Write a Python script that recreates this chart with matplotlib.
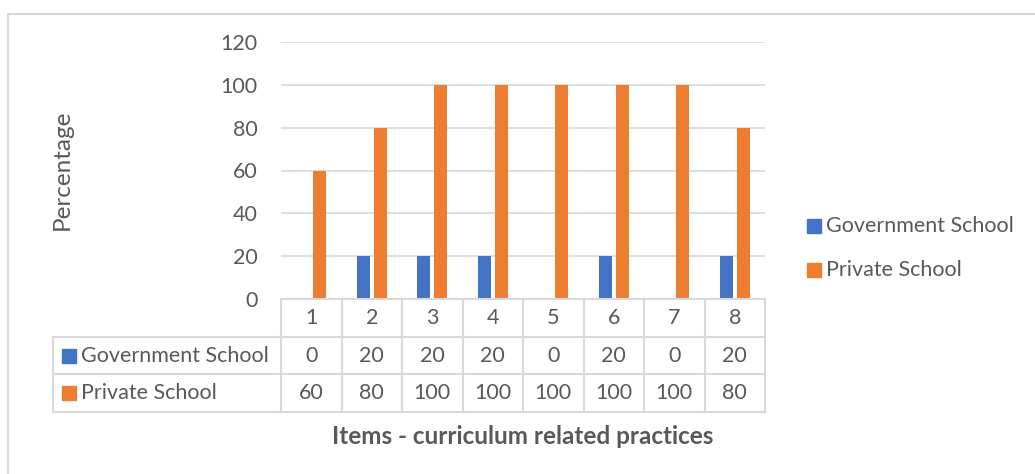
import matplotlib.pyplot as plt
from matplotlib.patches import Rectangle

items = ['1', '2', '3', '4', '5', '6', '7', '8']
government = [0, 20, 20, 20, 0, 20, 0, 20]
private = [60, 80, 100, 100, 100, 100, 100, 80]
series_names = ['Government School', 'Private School']
colors = ['#4472C4', '#ED7D31']
yticks = [0, 20, 40, 60, 80, 100, 120]

text_color = '#595959'
grid_color = '#D9D9D9'
plt.rcParams['font.family'] = ['Lato', 'DejaVu Sans']

W, H = 1035, 474
fig = plt.figure(figsize=(W / 100, H / 100), dpi=100)


def fx(px):
    return px / W


def fy(py):
    return 1 - py / H


# outer chart frame (only top/left visible in the crop)
fig.add_artist(plt.Line2D([fx(8), fx(8)], [fy(14), 0], color=grid_color, lw=1.5))
fig.add_artist(plt.Line2D([fx(8), 1], [fy(14), fy(14)], color=grid_color, lw=1.5))

fs = 15.5

# main plot area
left, right, top, bottom = 281, 765, 42, 299
ax = fig.add_axes([fx(left), fy(bottom), fx(right - left), (bottom - top) / H])
x = list(range(1, len(items) + 1))
bw = 0.22
ax.bar([v - 0.14 for v in x], government, width=bw, color=colors[0], zorder=3)
ax.bar([v + 0.14 for v in x], private, width=bw, color=colors[1], zorder=3)
ax.set_xlim(0.5, len(items) + 0.5)
ax.set_ylim(0, 120)
ax.set_yticks(yticks)
ax.yaxis.grid(True, color=grid_color, lw=1.2)
ax.set_axisbelow(True)
for s in ax.spines.values():
    s.set_visible(False)
ax.set_xticks([])
ax.tick_params(axis='y', length=0, pad=17, labelsize=fs, labelcolor=text_color)
fig.text(fx(62), fy(170), 'Percentage', rotation=90, ha='center', va='center',
         fontsize=17.5, color=text_color)

# data table below the plot
tleft, tbottom = 53, 412
col_w = (right - left) / len(items)
x0 = 0.5 - (left - tleft) / col_w
tax = fig.add_axes([fx(tleft), fy(tbottom), fx(right - tleft), (tbottom - bottom) / H])
tax.set_xlim(x0, len(items) + 0.5)
tax.set_ylim(0, 3)
tax.axis('off')
lc = dict(color=grid_color, lw=1.5, clip_on=False)
# horizontal lines
tax.plot([0.5, len(items) + 0.5], [3, 3], **lc)
for yy in [0, 1, 2]:
    tax.plot([x0, len(items) + 0.5], [yy, yy], **lc)
# vertical lines
tax.plot([x0, x0], [0, 2], **lc)
for i in range(len(items) + 1):
    tax.plot([0.5 + i, 0.5 + i], [0, 3], **lc)

for i, lab in enumerate(items):
    tax.text(i + 1, 2.5, lab, ha='center', va='center', fontsize=fs, color=text_color)
    tax.text(i + 1, 1.5, str(government[i]), ha='center', va='center', fontsize=fs, color=text_color)
    tax.text(i + 1, 0.5, str(private[i]), ha='center', va='center', fontsize=fs, color=text_color)

sq = 14 / col_w
for row, (name, c) in zip([1.5, 0.5], zip(series_names, colors)):
    tax.add_patch(Rectangle((x0 + 9 / col_w, row - 0.19), sq, 0.37, color=c, clip_on=False))
    tax.text(x0 + 28 / col_w, row, name, ha='left', va='center', fontsize=fs, color=text_color)

# legend on the right
for py, name, c in [(226, series_names[0], colors[0]), (270, series_names[1], colors[1])]:
    fig.add_artist(Rectangle((fx(807), fy(py + 7)), fx(14), 14 / H, color=c))
    fig.text(fx(826), fy(py), name, ha='left', va='center', fontsize=fs, color=text_color)

fig.text(fx(523), fy(436), 'Items - curriculum related practices', ha='center', va='center',
         fontsize=17.5, fontweight='bold', color=text_color)

fig.savefig('out.png', dpi=100)
